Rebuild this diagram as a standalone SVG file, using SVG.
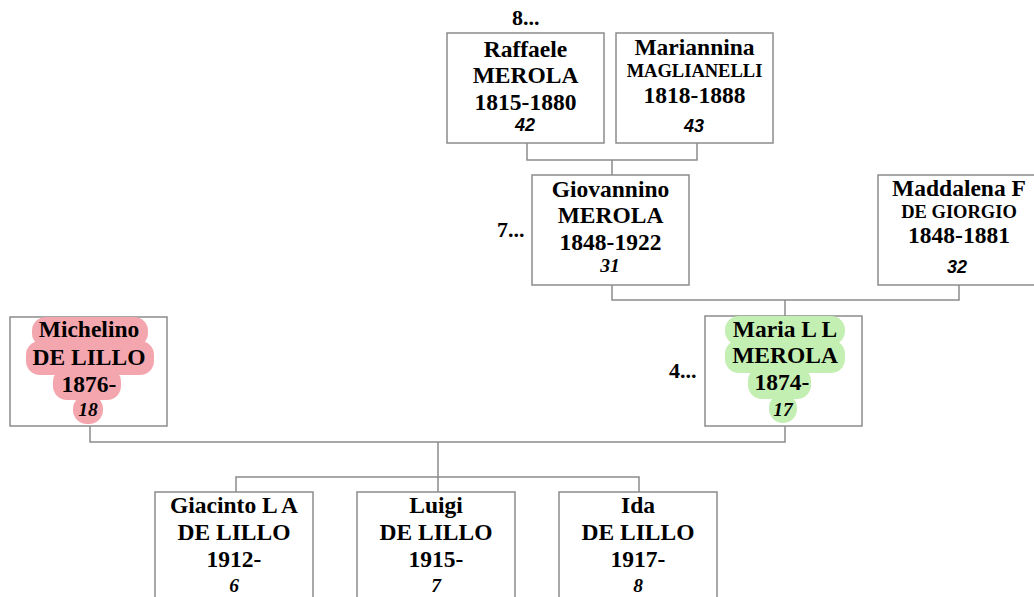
<svg xmlns="http://www.w3.org/2000/svg" width="1034" height="597" viewBox="0 0 1034 597">
<style>
.box{fill:#fff;stroke:#8c8c8c;stroke-width:1.5}
.con{fill:none;stroke:#8c8c8c;stroke-width:1.5}
text{font-family:"Liberation Serif","Times New Roman",serif;font-weight:bold;fill:#000;text-anchor:middle}
.n{font-size:23.5px}
.s{font-size:18.5px}
.i{font-size:19.5px;font-style:italic}
.is{font-size:18px;font-style:italic;font-family:"Liberation Sans",Arial,sans-serif}
.gen{font-size:22px;text-anchor:start}
.pk{fill:#f4a6ae}
.gr{fill:#c4efb2}
</style>
<rect width="1034" height="597" fill="#fff"/>
<g id="connectors">
<path class="con" d="M527 143V160H697V143M612 160V175"/>
<path class="con" d="M612 285V300H959V285M785 300V316"/>
<path class="con" d="M90 426V442H785V426M438 442V477M236 492V477H639V492M438 477V492"/>
</g>
<text class="gen" x="512" y="25">8...</text>
<text class="gen" x="497" y="237">7...</text>
<text class="gen" x="669" y="378">4...</text>
<g id="raffaele">
<rect class="box" x="447" y="33" width="157" height="110"/>
<text class="n" x="525.5" y="57">Raffaele</text>
<text class="n" x="525.5" y="83">MEROLA</text>
<text class="n" x="525.5" y="110">1815-1880</text>
<text class="is" x="525" y="131">42</text>
</g>
<g id="mariannina">
<rect class="box" x="616" y="33" width="157" height="110"/>
<text class="n" x="694.5" y="55">Mariannina</text>
<text class="s" x="694.5" y="77">MAGLIANELLI</text>
<text class="n" x="694.5" y="103">1818-1888</text>
<text class="is" x="694" y="132">43</text>
</g>
<g id="giovannino">
<rect class="box" x="532" y="175" width="157" height="110"/>
<text class="n" x="610.5" y="197">Giovannino</text>
<text class="n" x="610.5" y="223">MEROLA</text>
<text class="n" x="610.5" y="250">1848-1922</text>
<text class="i" x="610" y="272">31</text>
</g>
<g id="maddalena">
<rect class="box" x="878" y="175" width="157" height="110"/>
<text class="n" x="959" y="196">Maddalena F</text>
<text class="s" x="959" y="218">DE GIORGIO</text>
<text class="n" x="959" y="243">1848-1881</text>
<text class="is" x="957" y="273">32</text>
</g>
<g id="michelino">
<rect class="box" x="10" y="317" width="157" height="109"/>
<rect class="pk" x="32" y="317" width="116" height="30" rx="14"/>
<rect class="pk" x="26" y="341" width="128" height="34" rx="14"/>
<rect class="pk" x="53" y="368" width="68" height="32" rx="14"/>
<rect class="pk" x="73" y="395" width="30" height="29" rx="14"/>
<text class="n" x="89" y="337">Michelino</text>
<text class="n" x="89" y="365">DE LILLO</text>
<text class="n" x="89" y="392">1876-</text>
<text class="i" x="88" y="416">18</text>
</g>
<g id="maria">
<rect class="box" x="705" y="316" width="157" height="110"/>
<rect class="gr" x="725" y="316" width="120" height="29" rx="14"/>
<rect class="gr" x="725" y="340" width="120" height="33" rx="14"/>
<rect class="gr" x="748" y="367" width="63" height="32" rx="14"/>
<rect class="gr" x="769" y="394" width="28" height="29" rx="14"/>
<text class="n" x="785" y="337">Maria L L</text>
<text class="n" x="785" y="363">MEROLA</text>
<text class="n" x="782" y="390">1874-</text>
<text class="i" x="783" y="416">17</text>
</g>
<g id="giacinto">
<rect class="box" x="155" y="492" width="158" height="115"/>
<text class="n" x="234" y="513">Giacinto L A</text>
<text class="n" x="234" y="540">DE LILLO</text>
<text class="n" x="234" y="567">1912-</text>
<text class="i" x="234" y="592">6</text>
</g>
<g id="luigi">
<rect class="box" x="357" y="492" width="158" height="115"/>
<text class="n" x="436" y="513">Luigi</text>
<text class="n" x="436" y="540">DE LILLO</text>
<text class="n" x="436" y="567">1915-</text>
<text class="i" x="436" y="592">7</text>
</g>
<g id="ida">
<rect class="box" x="559" y="492" width="158" height="115"/>
<text class="n" x="638" y="513">Ida</text>
<text class="n" x="638" y="540">DE LILLO</text>
<text class="n" x="638" y="567">1917-</text>
<text class="i" x="638" y="592">8</text>
</g>
</svg>
